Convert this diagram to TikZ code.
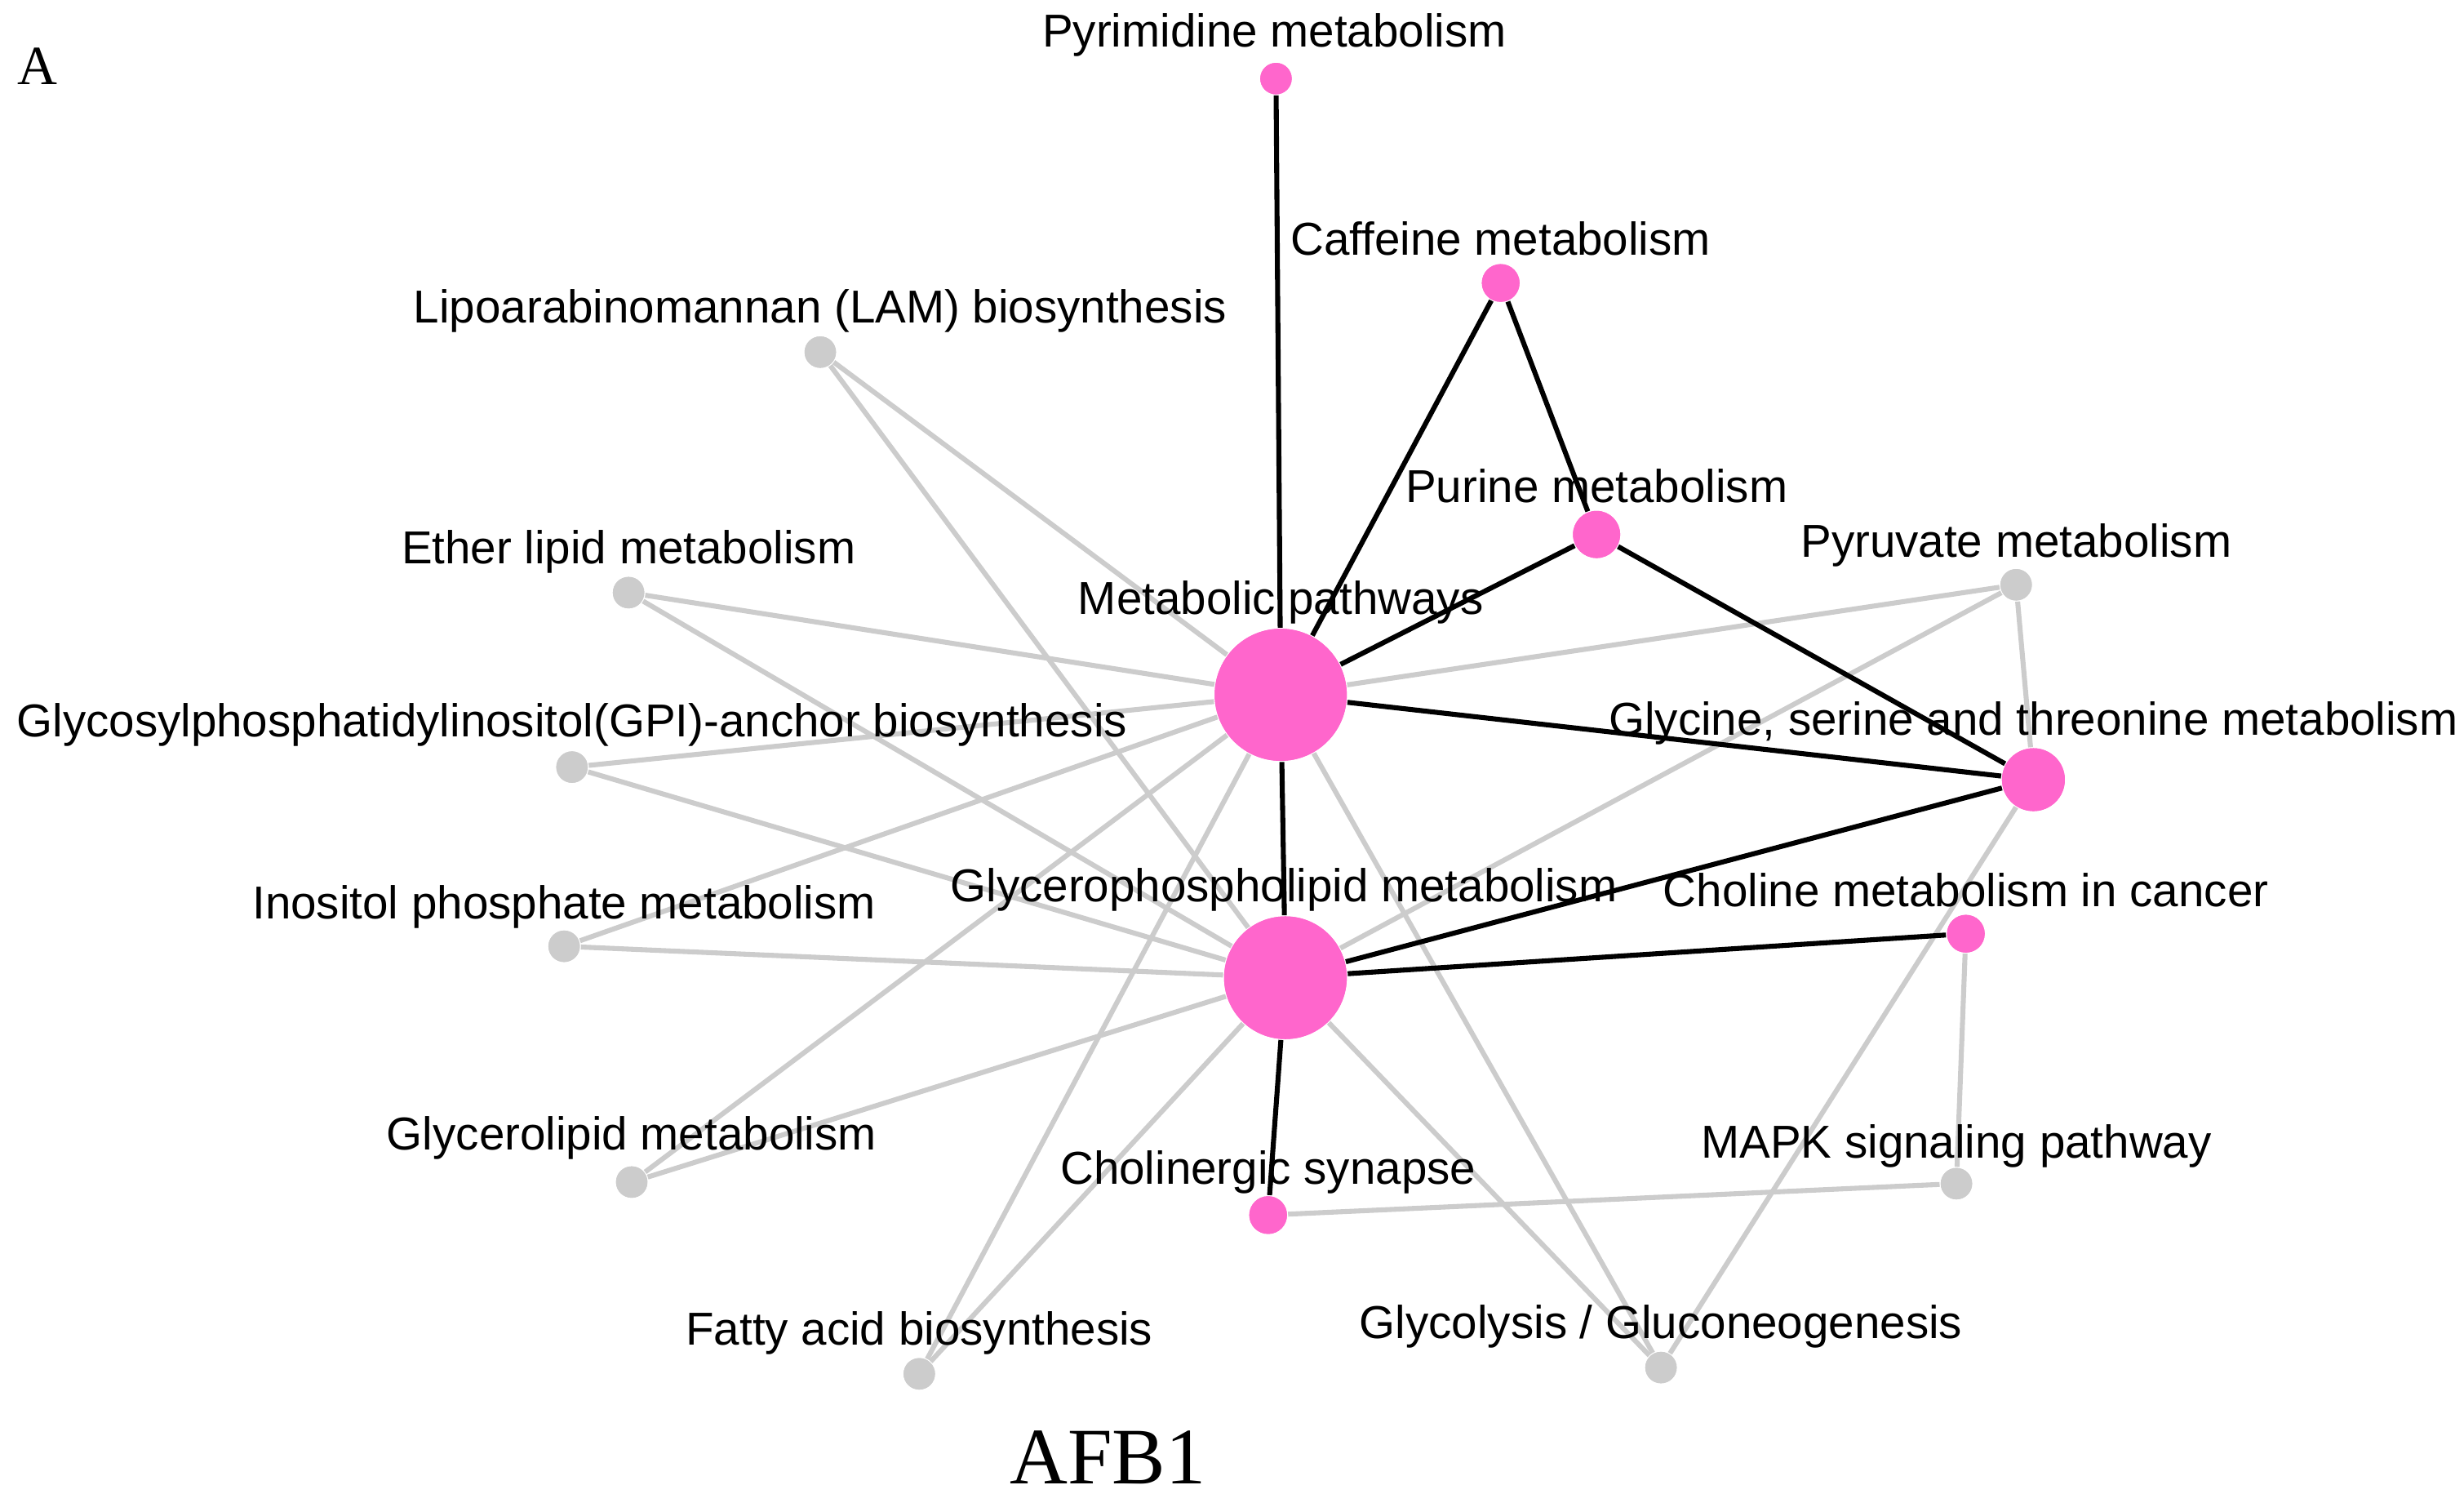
\documentclass[tikz,border=0pt]{standalone}
\usepackage{fontspec}
\setmainfont{Liberation Sans}
\newfontfamily\serifA{Liberation Serif}
\definecolor{npink}{RGB}{255,102,204}
\definecolor{ngray}{RGB}{204,204,204}
\begin{document}
\begin{tikzpicture}[x=0.01cm,y=-0.01cm,
  pk/.style={circle,fill=npink,inner sep=0pt,minimum size=#1*0.02cm},
  gy/.style={circle,fill=ngray,inner sep=0pt,minimum size=0.2cm},
  lab/.style={font=\fontsize{8.35}{10}\selectfont,inner sep=0pt},
  be/.style={draw=black,line width=0.9pt},
  ge/.style={draw=ngray,line width=0.9pt}]
\useasboundingbox (0,0) rectangle (1568,950);
% nodes
\node[pk=10] (pyr) at (812,50) {};
\node[pk=12] (caf) at (955,180) {};
\node[pk=15] (pur) at (1016,340) {};
\node[pk=42] (met) at (815,442) {};
\node[pk=20] (gly) at (1294,496) {};
\node[pk=12] (chc) at (1251,594) {};
\node[pk=39] (glp) at (818,622) {};
\node[pk=12] (chs) at (807,773) {};
\node[gy] (lam) at (522,224) {};
\node[gy] (eth) at (400,377) {};
\node[gy] (gpi) at (364,488) {};
\node[gy] (ino) at (359,602) {};
\node[gy] (gll) at (402,752) {};
\node[gy] (fat) at (585,874) {};
\node[gy] (glc) at (1057,870) {};
\node[gy] (mapk) at (1245,753) {};
\node[gy] (pyv) at (1283,372) {};
% gray edges
\foreach \a in {lam,eth,gpi,ino,gll,fat,glc,pyv}{
  \path[ge] (\a) -- (met);
  \path[ge] (\a) -- (glp);
}
\path[ge] (glc) -- (gly);
\path[ge] (pyv) -- (gly);
\path[ge] (mapk) -- (chs);
\path[ge] (mapk) -- (chc);
% black edges
\path[be] (pyr) -- (met);
\path[be] (caf) -- (met);
\path[be] (caf) -- (pur);
\path[be] (pur) -- (met);
\path[be] (pur) -- (gly);
\path[be] (met) -- (gly);
\path[be] (met) -- (glp);
\path[be] (glp) -- (gly);
\path[be] (glp) -- (chc);
\path[be] (glp) -- (chs);
% redraw nodes on top
\foreach \n/\s in {pyr/10,caf/12,pur/15,met/42,gly/20,chc/12,glp/39,chs/12}{
  \node[pk=\s] at (\n) {};
}
\foreach \n in {lam,eth,gpi,ino,gll,fat,glc,mapk,pyv}{
  \node[gy] at (\n) {};
}
% labels
\node[lab] (lpyr) at (811,22) {Pyrimidine metabolism};
\node[lab] (lcaf) at (955,152) {Caffeine metabolism};
\node[lab] (lpur) at (1016,309) {Purine metabolism};
\node[lab] (lmet) at (815,383) {Metabolic pathways};
\node[lab] (lgly) at (1294,460) {Glycine, serine and threonine metabolism};
\node[lab] (lchc) at (1251,566) {Choline metabolism in cancer};
\node[lab] (lglp) at (817,566) {Glycerophospholipid metabolism};
\node[lab] (lchs) at (807,746) {Cholinergic synapse};
\node[lab] (llam) at (522,198) {Lipoarabinomannan (LAM) biosynthesis};
\node[lab] (leth) at (400,351) {Ether lipid metabolism};
\node[lab] (lgpi) at (364,461) {Glycosylphosphatidylinositol(GPI)-anchor biosynthesis};
\node[lab] (lino) at (359,577) {Inositol phosphate metabolism};
\node[lab] (lgll) at (402,724) {Glycerolipid metabolism};
\node[lab] (lfat) at (585,848) {Fatty acid biosynthesis};
\node[lab] (lglc) at (1057,844) {Glycolysis / Gluconeogenesis};
\node[lab] (lmapk) at (1245,729) {MAPK signaling pathway};
\node[lab] (lpyv) at (1283,347) {Pyruvate metabolism};
\node[font=\serifA\fontsize{10}{12}\selectfont,inner sep=0pt] (pa) at (24,42) {A};
\node[font=\serifA\fontsize{14.5}{16}\selectfont,inner sep=0pt] (title) at (705,927) {AFB1};
\end{tikzpicture}
\end{document}
